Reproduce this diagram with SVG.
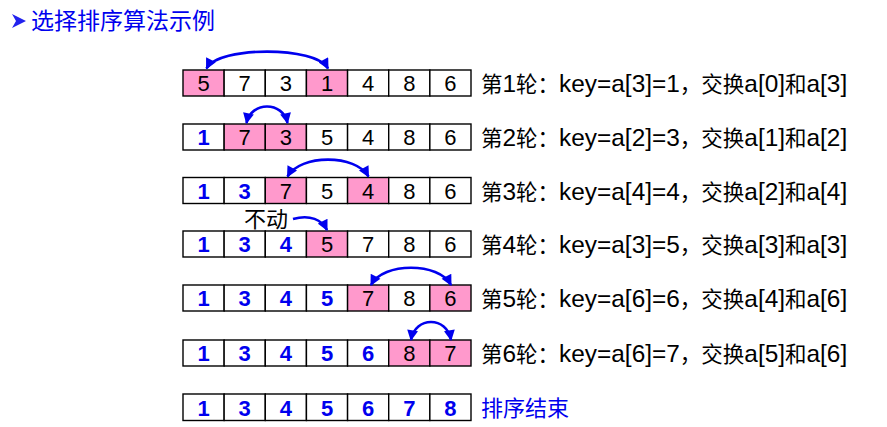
<svg xmlns="http://www.w3.org/2000/svg" width="887" height="427" viewBox="0 0 887 427">
<style>
.c{fill:#fff;stroke:#000;stroke-width:1.4}
.p{fill:#ff99cc;stroke:#000;stroke-width:1.4}
.n{font-family:"Liberation Sans",Arial,sans-serif;font-size:22px;fill:#000;text-anchor:middle}
.b{font-family:"Liberation Sans",Arial,sans-serif;font-size:22px;font-weight:bold;fill:#0000ee;text-anchor:middle}
.l{font-family:"Noto Sans CJK SC","Liberation Sans",sans-serif;font-size:21.5px;fill:#000}
.e{font-family:"Liberation Sans",Arial,sans-serif;font-size:24.4px}
.lb{font-family:"Liberation Sans","Noto Sans CJK SC",sans-serif;font-size:22px;fill:#0000ee}
.t{font-family:"Liberation Sans","Noto Sans CJK SC",sans-serif;font-size:23px;fill:#0000ee}
.a{fill:none;stroke:#0000ee;stroke-width:2.6}
</style>
<defs>
<marker id="ah" viewBox="0 0 10 10" refX="9" refY="5" markerWidth="4.6" markerHeight="4.2" orient="auto-start-reverse" markerUnits="strokeWidth">
<path d="M0,0 L10,5 L0,10 z" fill="#0000ee"/>
</marker>
</defs>
<g id="title">
<polygon points="12,14 26,21 12,28 16,21" fill="#2222ee"/>
<text class="t" x="31" y="29">选择排序算法示例</text>
</g>

<g id="row1">
<rect class="p" x="183" y="70" width="41.14" height="26"/><rect class="c" x="224.14" y="70" width="41.14" height="26"/><rect class="c" x="265.29" y="70" width="41.14" height="26"/><rect class="p" x="306.43" y="70" width="41.14" height="26"/><rect class="c" x="347.57" y="70" width="41.14" height="26"/><rect class="c" x="388.71" y="70" width="41.14" height="26"/><rect class="c" x="429.86" y="70" width="41.14" height="26"/>
<text class="n" x="203.6" y="91">5</text><text class="n" x="244.7" y="91">7</text><text class="n" x="285.9" y="91">3</text><text class="n" x="327" y="91">1</text><text class="n" x="368.1" y="91">4</text><text class="n" x="409.3" y="91">8</text><text class="n" x="450.4" y="91">6</text>
<text class="l" x="481" y="92">第<tspan class="e">1</tspan>轮：<tspan class="e">key=a[3]=1</tspan>，交换<tspan class="e">a[0]</tspan>和<tspan class="e">a[3]</tspan></text>
</g>

<g id="row2">
<rect class="c" x="183" y="124" width="41.14" height="26"/><rect class="p" x="224.14" y="124" width="41.14" height="26"/><rect class="p" x="265.29" y="124" width="41.14" height="26"/><rect class="c" x="306.43" y="124" width="41.14" height="26"/><rect class="c" x="347.57" y="124" width="41.14" height="26"/><rect class="c" x="388.71" y="124" width="41.14" height="26"/><rect class="c" x="429.86" y="124" width="41.14" height="26"/>
<text class="b" x="203.6" y="145">1</text><text class="n" x="244.7" y="145">7</text><text class="n" x="285.9" y="145">3</text><text class="n" x="327" y="145">5</text><text class="n" x="368.1" y="145">4</text><text class="n" x="409.3" y="145">8</text><text class="n" x="450.4" y="145">6</text>
<text class="l" x="481" y="146">第<tspan class="e">2</tspan>轮：<tspan class="e">key=a[2]=3</tspan>，交换<tspan class="e">a[1]</tspan>和<tspan class="e">a[2]</tspan></text>
</g>

<g id="row3">
<rect class="c" x="183" y="177.5" width="41.14" height="26"/><rect class="c" x="224.14" y="177.5" width="41.14" height="26"/><rect class="p" x="265.29" y="177.5" width="41.14" height="26"/><rect class="c" x="306.43" y="177.5" width="41.14" height="26"/><rect class="p" x="347.57" y="177.5" width="41.14" height="26"/><rect class="c" x="388.71" y="177.5" width="41.14" height="26"/><rect class="c" x="429.86" y="177.5" width="41.14" height="26"/>
<text class="b" x="203.6" y="198.5">1</text><text class="b" x="244.7" y="198.5">3</text><text class="n" x="285.9" y="198.5">7</text><text class="n" x="327" y="198.5">5</text><text class="n" x="368.1" y="198.5">4</text><text class="n" x="409.3" y="198.5">8</text><text class="n" x="450.4" y="198.5">6</text>
<text class="l" x="481" y="199.5">第<tspan class="e">3</tspan>轮：<tspan class="e">key=a[4]=4</tspan>，交换<tspan class="e">a[2]</tspan>和<tspan class="e">a[4]</tspan></text>
</g>

<g id="row4">
<rect class="c" x="183" y="231" width="41.14" height="26"/><rect class="c" x="224.14" y="231" width="41.14" height="26"/><rect class="c" x="265.29" y="231" width="41.14" height="26"/><rect class="p" x="306.43" y="231" width="41.14" height="26"/><rect class="c" x="347.57" y="231" width="41.14" height="26"/><rect class="c" x="388.71" y="231" width="41.14" height="26"/><rect class="c" x="429.86" y="231" width="41.14" height="26"/>
<text class="b" x="203.6" y="252">1</text><text class="b" x="244.7" y="252">3</text><text class="b" x="285.9" y="252">4</text><text class="n" x="327" y="252">5</text><text class="n" x="368.1" y="252">7</text><text class="n" x="409.3" y="252">8</text><text class="n" x="450.4" y="252">6</text>
<text class="l" x="481" y="253">第<tspan class="e">4</tspan>轮：<tspan class="e">key=a[3]=5</tspan>，交换<tspan class="e">a[3]</tspan>和<tspan class="e">a[3]</tspan></text>
</g>

<g id="row5">
<rect class="c" x="183" y="285" width="41.14" height="26"/><rect class="c" x="224.14" y="285" width="41.14" height="26"/><rect class="c" x="265.29" y="285" width="41.14" height="26"/><rect class="c" x="306.43" y="285" width="41.14" height="26"/><rect class="p" x="347.57" y="285" width="41.14" height="26"/><rect class="c" x="388.71" y="285" width="41.14" height="26"/><rect class="p" x="429.86" y="285" width="41.14" height="26"/>
<text class="b" x="203.6" y="306">1</text><text class="b" x="244.7" y="306">3</text><text class="b" x="285.9" y="306">4</text><text class="b" x="327" y="306">5</text><text class="n" x="368.1" y="306">7</text><text class="n" x="409.3" y="306">8</text><text class="n" x="450.4" y="306">6</text>
<text class="l" x="481" y="307">第<tspan class="e">5</tspan>轮：<tspan class="e">key=a[6]=6</tspan>，交换<tspan class="e">a[4]</tspan>和<tspan class="e">a[6]</tspan></text>
</g>

<g id="row6">
<rect class="c" x="183" y="340" width="41.14" height="26"/><rect class="c" x="224.14" y="340" width="41.14" height="26"/><rect class="c" x="265.29" y="340" width="41.14" height="26"/><rect class="c" x="306.43" y="340" width="41.14" height="26"/><rect class="c" x="347.57" y="340" width="41.14" height="26"/><rect class="p" x="388.71" y="340" width="41.14" height="26"/><rect class="p" x="429.86" y="340" width="41.14" height="26"/>
<text class="b" x="203.6" y="361">1</text><text class="b" x="244.7" y="361">3</text><text class="b" x="285.9" y="361">4</text><text class="b" x="327" y="361">5</text><text class="b" x="368.1" y="361">6</text><text class="n" x="409.3" y="361">8</text><text class="n" x="450.4" y="361">7</text>
<text class="l" x="481" y="362">第<tspan class="e">6</tspan>轮：<tspan class="e">key=a[6]=7</tspan>，交换<tspan class="e">a[5]</tspan>和<tspan class="e">a[6]</tspan></text>
</g>

<g id="row7">
<rect class="c" x="183" y="394" width="41.14" height="26.5"/><rect class="c" x="224.14" y="394" width="41.14" height="26.5"/><rect class="c" x="265.29" y="394" width="41.14" height="26.5"/><rect class="c" x="306.43" y="394" width="41.14" height="26.5"/><rect class="c" x="347.57" y="394" width="41.14" height="26.5"/><rect class="c" x="388.71" y="394" width="41.14" height="26.5"/><rect class="c" x="429.86" y="394" width="41.14" height="26.5"/>
<text class="b" x="203.6" y="415.5">1</text><text class="b" x="244.7" y="415.5">3</text><text class="b" x="285.9" y="415.5">4</text><text class="b" x="327" y="415.5">5</text><text class="b" x="368.1" y="415.5">6</text><text class="b" x="409.3" y="415.5">7</text><text class="b" x="450.4" y="415.5">8</text>
<text class="lb" x="481" y="416">排序结束</text>
</g>

<g id="connectors">
<path class="a" d="M206.5,68.5 C218,46 316,46 328,68.5" marker-start="url(#ah)" marker-end="url(#ah)"/>
<path class="a" d="M246.5,123 C251,101 283,101 287.5,123" marker-start="url(#ah)" marker-end="url(#ah)"/>
<path class="a" d="M287.5,176.5 C300,154 356,154 368.5,176.5" marker-start="url(#ah)" marker-end="url(#ah)"/>
<text class="lb" x="244" y="227" style="fill:#000">不动</text>
<path class="a" d="M293,219 C310,214 322,220 327,230" marker-end="url(#ah)"/>
<path class="a" d="M371,285 C383,262 439,262 451,285" marker-start="url(#ah)" marker-end="url(#ah)"/>
<path class="a" d="M411,340 C415,316 447,316 451,340" marker-start="url(#ah)" marker-end="url(#ah)"/>
</g>
</svg>
